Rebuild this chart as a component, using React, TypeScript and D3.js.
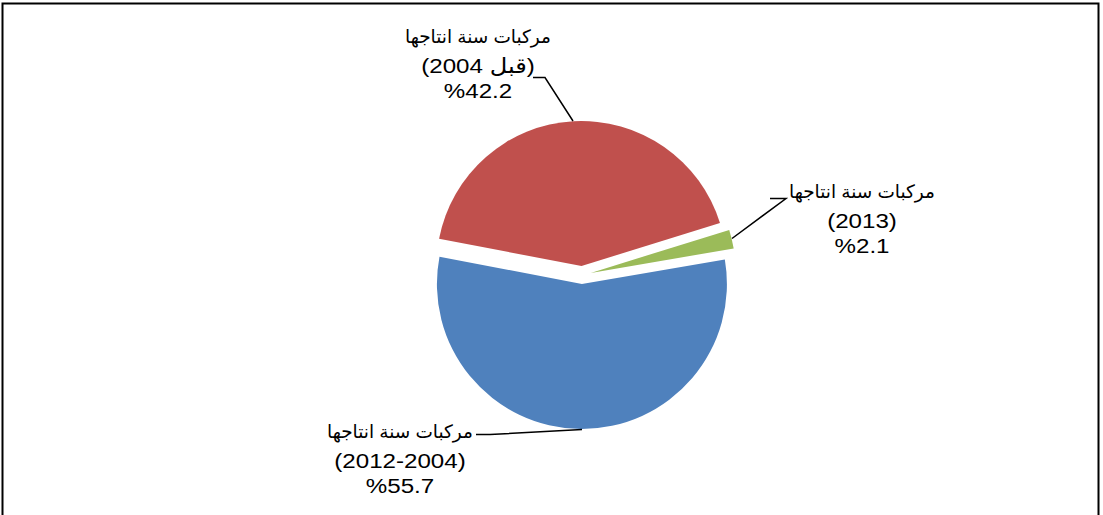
import React from "react";
import * as d3 from "d3";

const categories = [
  "مركبات سنة انتاجها (2012-2004)",
  "مركبات سنة انتاجها (قبل 2004)",
  "مركبات سنة انتاجها (2013)",
];
const labelLine1 = ["مركبات سنة انتاجها", "مركبات سنة انتاجها", "مركبات سنة انتاجها"];
const labelLine2 = ["(2012-2004)", "(قبل 2004)", "(2013)"];
const values = [55.7, 42.2, 2.1];
const valueLabels = ["%55.7", "%42.2", "%2.1"];
const colors = ["#4F81BD", "#C0504D", "#9BBB59"];

// layout
const W = 1103;
const H = 515;
const cx = 582;
const cy = 275;
const R = 145;
const explode = 9;
const startDeg = 80.3;
const labelPos = [
  { x: 400, y: 438 },
  { x: 478, y: 43 },
  { x: 862, y: 198 },
];
const leaders = [
  [[476, 434.5], [490, 434.5], [582, 429.5]],
  [[533, 77.5], [545, 77.5], [573, 121]],
  [[770, 198.5], [786, 198.5], [732, 238.5]],
];
const sx = 1.15;

export default function App() {
  const pie = d3
    .pie<number>()
    .sort(null)
    .value((d) => d)
    .startAngle((startDeg * Math.PI) / 180)
    .endAngle((startDeg * Math.PI) / 180 + 2 * Math.PI);
  const arcs = pie(values);
  const arcGen = d3.arc<d3.PieArcDatum<number>>().innerRadius(0).outerRadius(R);
  const line = d3.line();
  const font = "Arial, 'Liberation Sans', 'DejaVu Sans', sans-serif";

  return (
    <svg
      width={W}
      height={H}
      style={{ position: "absolute", left: 0, top: 0, background: "#fff" }}
    >
      <rect x={2.5} y={3.5} width={1096} height={540} fill="#fff" stroke="#000" strokeWidth={2} />
      {arcs.map((a, i) => {
        const mid = (a.startAngle + a.endAngle) / 2;
        const dx = explode * Math.sin(mid);
        const dy = -explode * Math.cos(mid);
        return (
          <path
            key={i}
            d={arcGen(a) || ""}
            transform={`translate(${cx + dx},${cy + dy})`}
            fill={colors[i]}
          />
        );
      })}
      {leaders.map((pts, i) => (
        <path key={i} d={line(pts as [number, number][]) || ""} fill="none" stroke="#000" strokeWidth={1.5} />
      ))}
      {labelPos.map((p, i) => (
        <g key={i} fontFamily={font} fill="#000" textAnchor="middle">
          <text x={p.x} y={p.y} fontSize={18.5} direction="rtl" style={{ unicodeBidi: "plaintext" } as any}>
            {labelLine1[i]}
          </text>
          <g transform={`translate(${p.x},${p.y + 30}) scale(${sx},1)`}>
            <text x={0} y={0} fontSize={21}>{labelLine2[i]}</text>
          </g>
          <g transform={`translate(${p.x},${p.y + 55}) scale(${sx},1)`}>
            <text x={0} y={0} fontSize={21}>{valueLabels[i]}</text>
          </g>
        </g>
      ))}
    </svg>
  );
}
